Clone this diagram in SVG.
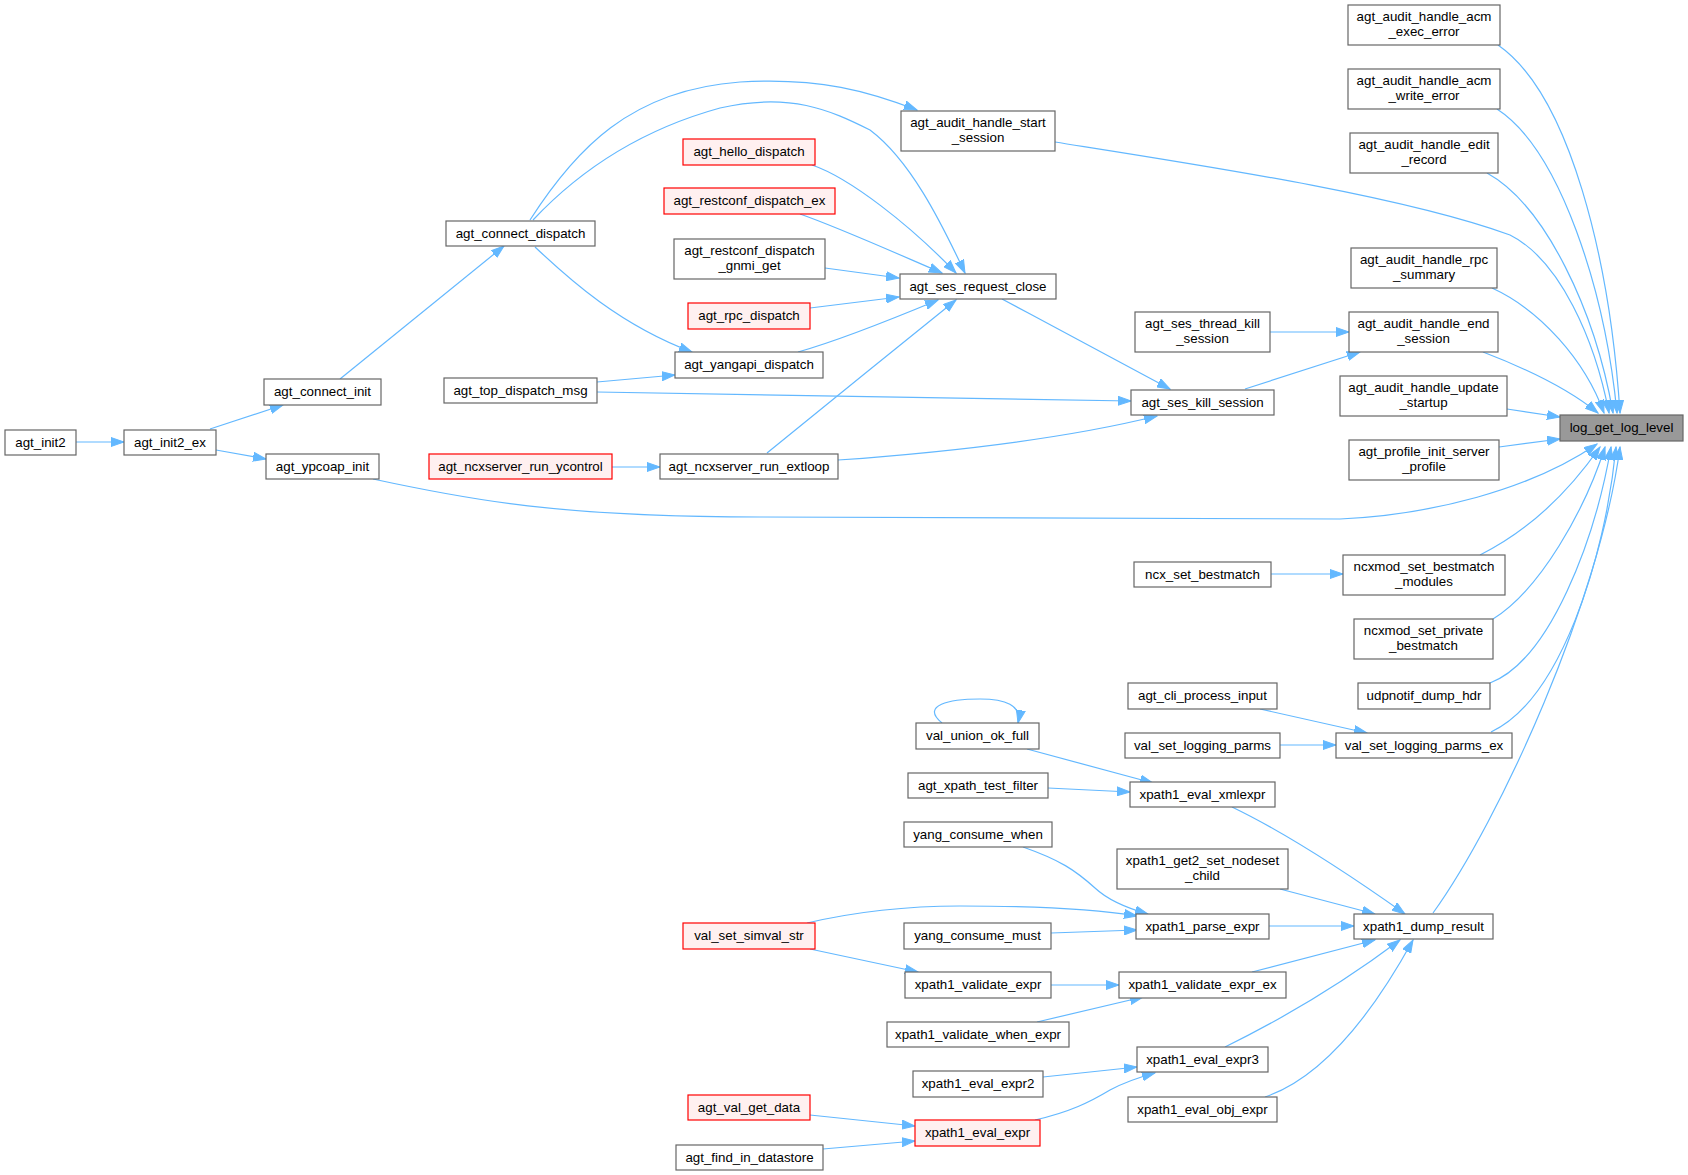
<svg xmlns="http://www.w3.org/2000/svg" width="1688" height="1175" viewBox="0 0 1688 1175">
<style>
.node rect{fill:#ffffff;stroke:#666666;stroke-width:1.2}
.node.red rect{fill:#fff0f0;stroke:#ff0000}
.node.cur rect{fill:#999999;stroke:#666666}
.node text{font-family:"Liberation Sans",Arial,sans-serif;font-size:13.33px;fill:#000000;text-anchor:middle}
.edges path{fill:none;stroke:#63b8ff;stroke-width:1.2;marker-end:url(#arr)}
</style>
<defs>
<marker id="arr" markerUnits="userSpaceOnUse" markerWidth="14" markerHeight="10" viewBox="0 0 14 10" refX="13" refY="5" orient="auto">
<path d="M0,0.5 L13,5 L0,9.5 z" fill="#63b8ff" stroke="#63b8ff" stroke-width="1"/>
</marker>
</defs>
<rect x="0" y="0" width="1688" height="1175" fill="#ffffff"/>
<g class="edges" id="edges">
<path d="M1498,45 C1570,95 1610,260 1620,413"/>
<path d="M1497,109 C1560,150 1605,290 1617,413"/>
<path d="M1487,173 C1545,205 1595,310 1613,413"/>
<path d="M1055,142 C1200,165 1400,195 1510,235 C1560,260 1595,340 1609,413"/>
<path d="M1492,288 C1540,310 1585,360 1604,413"/>
<path d="M1483,352 C1530,370 1570,390 1598,413"/>
<path d="M1507,409 L1560,417"/>
<path d="M1499,447 L1560,439"/>
<path d="M373,479 C470,500 560,517 760,517 L1340,519 C1430,515 1530,490 1597,444"/>
<path d="M1480,555 C1530,530 1570,490 1600,447"/>
<path d="M1493,619 C1540,590 1585,510 1605,447"/>
<path d="M1490,683 C1550,660 1595,540 1611,447"/>
<path d="M1491,732 C1560,700 1605,560 1616,447"/>
<path d="M1433,913 C1500,820 1600,600 1620,447"/>
<path d="M76,442 L124,442"/>
<path d="M210,429 L283,405"/>
<path d="M216,450 L266,459"/>
<path d="M340,379 L504,246"/>
<path d="M530,220 C575,150 630,90 740,82 C820,77 870,92 917,110"/>
<path d="M533,220 C580,170 640,130 720,108 C790,92 830,110 870,130 C910,160 940,220 965,273"/>
<path d="M535,247 C570,280 620,325 692,352"/>
<path d="M812,165 C850,178 910,225 956,273"/>
<path d="M800,214 C840,228 900,255 942,273"/>
<path d="M825,268 L899,278"/>
<path d="M810,308 L899,297"/>
<path d="M798,352 C830,343 890,320 938,300"/>
<path d="M767,453 C820,410 900,345 956,300"/>
<path d="M597,382 L675,375"/>
<path d="M597,392 C800,395 1000,399 1131,401"/>
<path d="M612,467 L660,467"/>
<path d="M838,460 C950,452 1060,440 1157,416"/>
<path d="M1002,299 C1060,330 1120,362 1170,389"/>
<path d="M1270,332 L1349,332"/>
<path d="M1245,389 L1360,352"/>
<path d="M1271,574 L1343,574"/>
<path d="M1260,709 L1367,733"/>
<path d="M1280,745 L1336,745"/>
<path d="M942,723 C920,705 950,699 980,699 C1005,699 1022,705 1018,723"/>
<path d="M1027,749 L1153,783"/>
<path d="M1048,788 L1130,792"/>
<path d="M1232,807 C1290,835 1350,875 1405,914"/>
<path d="M1023,847 C1060,860 1075,870 1095,888 C1110,902 1130,909 1148,914"/>
<path d="M1280,889 L1375,914"/>
<path d="M807,923 C850,913 900,906 960,906 C1040,906 1100,910 1137,916"/>
<path d="M1051,933 L1137,930"/>
<path d="M1269,926 L1354,926"/>
<path d="M810,949 L918,972"/>
<path d="M1051,985 L1119,985"/>
<path d="M1037,1022 L1143,997"/>
<path d="M1252,972 L1375,940"/>
<path d="M1225,1047 C1280,1020 1340,985 1400,940"/>
<path d="M1265,1097 C1330,1075 1380,1000 1413,940"/>
<path d="M1043,1077 L1137,1067"/>
<path d="M1035,1120 C1070,1112 1090,1102 1110,1090 C1125,1082 1140,1077 1155,1073"/>
<path d="M810,1115 L915,1126"/>
<path d="M823,1149 L915,1141"/>
</g>
<g id="n_acm_exec" class="node"><rect x="1348" y="5" width="152" height="40"/><text x="1424" y="21">agt_audit_handle_acm</text><text x="1424" y="36">_exec_error</text></g>
<g id="n_acm_write" class="node"><rect x="1348" y="69" width="152" height="40"/><text x="1424" y="85">agt_audit_handle_acm</text><text x="1424" y="100">_write_error</text></g>
<g id="n_edit_record" class="node"><rect x="1350" y="133" width="148" height="40"/><text x="1424" y="149">agt_audit_handle_edit</text><text x="1424" y="164">_record</text></g>
<g id="n_rpc_summary" class="node"><rect x="1351" y="248" width="146" height="40"/><text x="1424" y="264">agt_audit_handle_rpc</text><text x="1424" y="279">_summary</text></g>
<g id="n_end_session" class="node"><rect x="1349" y="312" width="149" height="40"/><text x="1423.5" y="328">agt_audit_handle_end</text><text x="1423.5" y="343">_session</text></g>
<g id="n_update_startup" class="node"><rect x="1340" y="376" width="167" height="40"/><text x="1423.5" y="392">agt_audit_handle_update</text><text x="1423.5" y="407">_startup</text></g>
<g id="n_log_get_log_level" class="node cur"><rect x="1560" y="415" width="123" height="26"/><text x="1621.5" y="432">log_get_log_level</text></g>
<g id="n_profile_init" class="node"><rect x="1349" y="440" width="150" height="40"/><text x="1424" y="456">agt_profile_init_server</text><text x="1424" y="471">_profile</text></g>
<g id="n_bestmatch_modules" class="node"><rect x="1343" y="555" width="162" height="40"/><text x="1424" y="571">ncxmod_set_bestmatch</text><text x="1424" y="586">_modules</text></g>
<g id="n_private_bestmatch" class="node"><rect x="1354" y="619" width="139" height="40"/><text x="1423.5" y="635">ncxmod_set_private</text><text x="1423.5" y="650">_bestmatch</text></g>
<g id="n_udpnotif" class="node"><rect x="1358" y="683" width="132" height="26"/><text x="1424" y="700">udpnotif_dump_hdr</text></g>
<g id="n_logging_parms_ex" class="node"><rect x="1336" y="733" width="176" height="25"/><text x="1424" y="750">val_set_logging_parms_ex</text></g>
<g id="n_dump_result" class="node"><rect x="1354" y="914" width="139" height="25"/><text x="1423.5" y="931">xpath1_dump_result</text></g>
<g id="n_agt_init2" class="node"><rect x="5" y="430" width="71" height="25"/><text x="40.5" y="447">agt_init2</text></g>
<g id="n_agt_init2_ex" class="node"><rect x="124" y="430" width="92" height="25"/><text x="170" y="447">agt_init2_ex</text></g>
<g id="n_connect_init" class="node"><rect x="264" y="379" width="117" height="26"/><text x="322.5" y="396">agt_connect_init</text></g>
<g id="n_ypcoap_init" class="node"><rect x="266" y="454" width="113" height="25"/><text x="322.5" y="471">agt_ypcoap_init</text></g>
<g id="n_connect_dispatch" class="node"><rect x="446" y="221" width="149" height="25"/><text x="520.5" y="238">agt_connect_dispatch</text></g>
<g id="n_top_dispatch_msg" class="node"><rect x="444" y="378" width="153" height="25"/><text x="520.5" y="395">agt_top_dispatch_msg</text></g>
<g id="n_ycontrol" class="node red"><rect x="429" y="454" width="183" height="25"/><text x="520.5" y="471">agt_ncxserver_run_ycontrol</text></g>
<g id="n_extloop" class="node"><rect x="660" y="454" width="178" height="25"/><text x="749" y="471">agt_ncxserver_run_extloop</text></g>
<g id="n_yangapi" class="node"><rect x="675" y="352" width="148" height="26"/><text x="749" y="369">agt_yangapi_dispatch</text></g>
<g id="n_rpc_dispatch" class="node red"><rect x="688" y="303" width="122" height="26"/><text x="749" y="320">agt_rpc_dispatch</text></g>
<g id="n_gnmi_get" class="node"><rect x="674" y="239" width="151" height="40"/><text x="749.5" y="255">agt_restconf_dispatch</text><text x="749.5" y="270">_gnmi_get</text></g>
<g id="n_restconf_ex" class="node red"><rect x="664" y="188" width="171" height="26"/><text x="749.5" y="205">agt_restconf_dispatch_ex</text></g>
<g id="n_hello" class="node red"><rect x="683" y="139" width="132" height="26"/><text x="749" y="156">agt_hello_dispatch</text></g>
<g id="n_start_session" class="node"><rect x="901" y="111" width="154" height="40"/><text x="978" y="127">agt_audit_handle_start</text><text x="978" y="142">_session</text></g>
<g id="n_request_close" class="node"><rect x="900" y="274" width="156" height="25"/><text x="978" y="291">agt_ses_request_close</text></g>
<g id="n_thread_kill" class="node"><rect x="1135" y="312" width="135" height="40"/><text x="1202.5" y="328">agt_ses_thread_kill</text><text x="1202.5" y="343">_session</text></g>
<g id="n_kill_session" class="node"><rect x="1131" y="390" width="143" height="25"/><text x="1202.5" y="407">agt_ses_kill_session</text></g>
<g id="n_ncx_bestmatch" class="node"><rect x="1134" y="562" width="137" height="25"/><text x="1202.5" y="579">ncx_set_bestmatch</text></g>
<g id="n_cli_process" class="node"><rect x="1128" y="683" width="149" height="26"/><text x="1202.5" y="700">agt_cli_process_input</text></g>
<g id="n_logging_parms" class="node"><rect x="1125" y="733" width="155" height="25"/><text x="1202.5" y="750">val_set_logging_parms</text></g>
<g id="n_union_ok_full" class="node"><rect x="916" y="723" width="123" height="26"/><text x="977.5" y="740">val_union_ok_full</text></g>
<g id="n_xpath_test_filter" class="node"><rect x="908" y="773" width="140" height="25"/><text x="978" y="790">agt_xpath_test_filter</text></g>
<g id="n_eval_xmlexpr" class="node"><rect x="1130" y="782" width="145" height="25"/><text x="1202.5" y="799">xpath1_eval_xmlexpr</text></g>
<g id="n_consume_when" class="node"><rect x="904" y="822" width="148" height="25"/><text x="978" y="839">yang_consume_when</text></g>
<g id="n_get2_set" class="node"><rect x="1117" y="849" width="171" height="40"/><text x="1202.5" y="865">xpath1_get2_set_nodeset</text><text x="1202.5" y="880">_child</text></g>
<g id="n_simval_str" class="node red"><rect x="683" y="923" width="132" height="26"/><text x="749" y="940">val_set_simval_str</text></g>
<g id="n_consume_must" class="node"><rect x="904" y="923" width="147" height="26"/><text x="977.5" y="940">yang_consume_must</text></g>
<g id="n_parse_expr" class="node"><rect x="1136" y="914" width="133" height="25"/><text x="1202.5" y="931">xpath1_parse_expr</text></g>
<g id="n_validate_expr" class="node"><rect x="905" y="972" width="146" height="26"/><text x="978" y="989">xpath1_validate_expr</text></g>
<g id="n_validate_expr_ex" class="node"><rect x="1119" y="972" width="167" height="26"/><text x="1202.5" y="989">xpath1_validate_expr_ex</text></g>
<g id="n_validate_when" class="node"><rect x="887" y="1022" width="182" height="25"/><text x="978" y="1039">xpath1_validate_when_expr</text></g>
<g id="n_eval_expr3" class="node"><rect x="1137" y="1047" width="131" height="25"/><text x="1202.5" y="1064">xpath1_eval_expr3</text></g>
<g id="n_eval_expr2" class="node"><rect x="913" y="1071" width="130" height="26"/><text x="978" y="1088">xpath1_eval_expr2</text></g>
<g id="n_eval_obj_expr" class="node"><rect x="1128" y="1097" width="149" height="25"/><text x="1202.5" y="1114">xpath1_eval_obj_expr</text></g>
<g id="n_val_get_data" class="node red"><rect x="688" y="1095" width="122" height="25"/><text x="749" y="1112">agt_val_get_data</text></g>
<g id="n_eval_expr" class="node red"><rect x="915" y="1120" width="125" height="26"/><text x="977.5" y="1137">xpath1_eval_expr</text></g>
<g id="n_find_in_datastore" class="node"><rect x="676" y="1145" width="147" height="25"/><text x="749.5" y="1162">agt_find_in_datastore</text></g>
</svg>
